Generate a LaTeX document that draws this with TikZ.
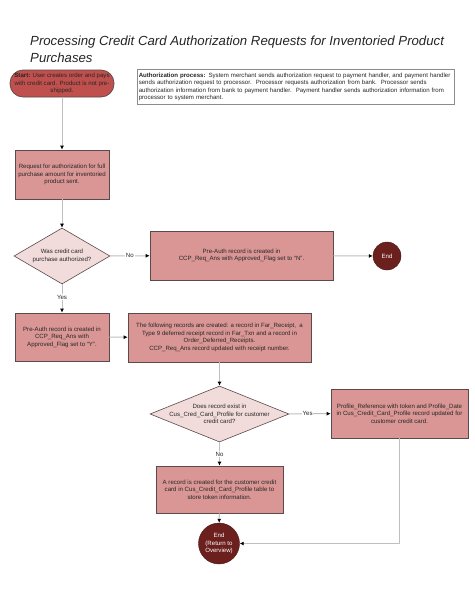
\documentclass[tikz,border=0pt]{standalone}
\usepackage{fontspec}
\setmainfont{Liberation Sans}
\usetikzlibrary{shapes.geometric,arrows.meta}
\definecolor{startfill}{HTML}{C0504D}
\definecolor{boxfill}{HTML}{D99694}
\definecolor{diafill}{HTML}{F2DCDB}
\definecolor{endfill}{HTML}{6B201D}
\definecolor{edgecol}{HTML}{5A4A4A}
\definecolor{linecol}{HTML}{BFBFBF}
\tikzset{
  x=1pt, y=-1pt,
  txt/.style={font=\fontsize{6.1}{7.5}\selectfont, text=black!85},
  startbox/.style={txt, rounded corners=13pt, draw=edgecol, fill=startfill, line width=0.7pt, minimum width=104pt, minimum height=27pt, align=center, inner sep=1pt},
  procbox/.style={txt, draw=edgecol, fill=boxfill, line width=0.7pt, align=center, inner sep=2pt},
  decbox/.style={diamond, draw=edgecol, fill=diafill, line width=0.6pt, inner sep=0pt},
  dectext/.style={txt, align=center, inner sep=0pt},
  endcirc/.style={txt, circle, draw=endfill!70!black, fill=endfill, text=white, align=center, inner sep=0pt},
  conn/.style={draw=linecol, line width=1pt},
  arr/.style={conn, -{Latex[length=4pt,width=4pt,color=black]}},
  lbl/.style={txt, fill=white, inner sep=0.8pt}
}
\begin{document}
\begin{tikzpicture}
\useasboundingbox (0,0) rectangle (474,613);
\fill[white] (0,0) rectangle (474,613);
% title
\node[anchor=north west, font=\fontsize{13.2}{17}\selectfont\itshape, text=black!85, inner sep=0pt, align=left] (title) at (30,35.5)
  {Processing Credit Card Authorization Requests for Inventoried Product\\Purchases};
% start
\node[startbox] (start) at (62,83.5) {\textbf{Start:} User creates order and pays\\with credit card. Product is not pre-\\shipped.};
% authorization process
\node[txt, draw=black!45, line width=0.6pt, anchor=north west, minimum width=316pt, minimum height=35pt, text width=314pt, align=left, inner sep=1.5pt] (auth) at (137,69)
  {\textbf{Authorization process:} System merchant sends authorization request to payment handler, and payment handler\\sends authorization request to processor.\ \ Processor requests authorization from bank.\ \ Processor sends\\authorization information from bank to payment handler.\ \ Payment handler sends authorization information from\\processor to system merchant.};
% request
\node[procbox, minimum width=94pt, minimum height=49pt] (req) at (62,174.5) {Request for authorization for full\\purchase amount for inventoried\\product sent.};
% decision 1
\node[decbox, minimum width=96pt, minimum height=56pt] (dec1) at (62,256) {};
\node[dectext] (dec1t) at (dec1) {Was credit card\\purchase authorized?};
% pre-auth N
\node[procbox, minimum width=183pt, minimum height=49pt] (preN) at (241.5,255.5) {Pre-Auth record is created in\\CCP\_Req\_Ans with Approved\_Flag set to “N”.};
% end 1
\node[endcirc, minimum size=28pt] (end1) at (387,256) {End};
% pre-auth Y
\node[procbox, minimum width=94pt, minimum height=48pt] (preY) at (62,337) {Pre-Auth record is created in\\CCP\_Req\_Ans with\\Approved\_Flag set to “Y”.};
% following records
\node[procbox, minimum width=183pt, minimum height=49pt] (follow) at (219.5,337.5) {The following records are created: a record in Far\_Receipt,\ \ a\\Type 9 deferred receipt record in Far\_Txn and a record in\\Order\_Deferred\_Receipts.\\CCP\_Req\_Ans record updated with receipt number.};
% decision 2
\node[decbox, minimum width=139pt, minimum height=56pt] (dec2) at (219.5,414) {};
\node[dectext] (dec2t) at (dec2) {Does record exist in\\Cus\_Cred\_Card\_Profile for customer\\credit card?};
% profile update
\node[procbox, minimum width=137pt, minimum height=49pt] (prof) at (399.5,413.5) {Profile\_Reference with token and Profile\_Date\\in Cus\_Credit\_Card\_Profile record updated for\\customer credit card.};
% record created
\node[procbox, minimum width=127pt, minimum height=47pt] (rec) at (219.5,489.5) {A record is created for the customer credit\\card in Cus\_Credit\_Card\_Profile table to\\store token information.};
% end 2
\node[endcirc, minimum size=41pt] (end2) at (219,543.5) {End\\(Return to\\Overview)};
% connectors
\draw[arr] (start) -- (req);
\draw[arr] (req) -- (dec1);
\draw[arr] (dec1) -- node[lbl] {No} (preN);
\draw[arr] (preN) -- (end1);
\draw[arr] (dec1) -- node[lbl, pos=0.45] {Yes} (preY);
\draw[arr] (preY) -- (follow);
\draw[arr] (follow) -- (dec2);
\draw[arr] (dec2) -- node[lbl, pos=0.45] {Yes} (prof);
\draw[arr] (dec2) -- node[lbl, pos=0.5] {No} (rec);
\draw[arr] (rec) -- (end2);
\draw[arr] (prof.south) |- (end2.east);
\end{tikzpicture}
\end{document}
